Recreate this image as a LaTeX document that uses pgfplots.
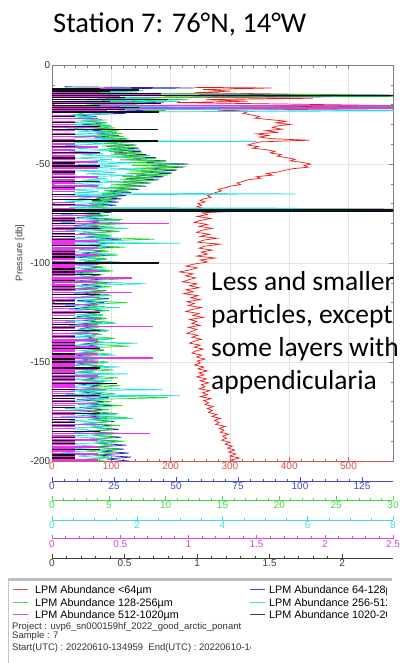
\documentclass[border=0pt]{standalone}
\usepackage{pgfplots}
\pgfplotsset{compat=1.18}
\usepackage{pgfplotstable}
\usepackage{fontspec}
\setmainfont{Liberation Sans}
\newfontfamily\calfont{Carlito}
\definecolor{cRed}{HTML}{F01818}
\definecolor{cBlue}{HTML}{2424C8}
\definecolor{cGreen}{HTML}{22DD22}
\definecolor{cCyan}{HTML}{22E0E0}
\definecolor{cMag}{HTML}{F030F0}
\definecolor{cBlack}{HTML}{101010}
\definecolor{lRed}{HTML}{D85050}
\definecolor{lBlue}{HTML}{4848C0}
\definecolor{lGreen}{HTML}{48D848}
\definecolor{lCyan}{HTML}{48DADA}
\definecolor{lMag}{HTML}{D848D8}
\definecolor{lBlack}{HTML}{404040}
\definecolor{frameC}{HTML}{808080}
\newcommand\tf{\fontsize{10}{12}\selectfont}
\newcommand\lf{\fontsize{10.8}{13}\selectfont}
\newcommand\smallf{\fontsize{9.5}{11}\selectfont}

\pgfplotstableread[row sep=\\]{
d v\\
11.3 240\\ 11.6 370\\ 12.4 255\\ 13.2 300\\ 14 240\\ 14.8 420\\ 15.6 600\\ 16.2 190\\ 16.8 440\\ 17.5 260\\ 18.3 330\\ 19 210\\ 19.8 412\\ 20.6 600\\ 21.3 230\\ 22 600\\ 22.8 280\\ 23.6 330\\ 24.4 322\\
25.2 335\\ 26 350\\ 26.8 342\\ 27.6 368\\ 28.4 395\\ 29.2 378\\ 30 402\\ 30.8 380\\ 31.6 372\\ 32.4 388\\ 33.2 360\\ 34 382\\ 34.8 345\\ 35.6 365\\ 36.4 350\\ 37.2 370\\ 38 434\\ 38.8 352\\ 39.6 340\\ 40.4 330\\ 41.2 348\\ 42 338\\ 42.8 362\\ 43.6 376\\ 44.4 368\\ 45.2 386\\ 46 380\\ 46.8 396\\ 47.6 410\\ 48.4 402\\ 49.2 422\\ 50 436\\ 50.8 425\\ 51.6 432\\ 52.4 405\\ 53.2 392\\ 54 382\\ 54.8 362\\ 55.6 372\\ 56.4 345\\ 57.2 352\\ 58 330\\ 58.8 322\\ 59.6 312\\ 60.4 318\\ 61.2 300\\ 62 292\\ 62.8 280\\ 63.6 286\\ 64.4 276\\ 65.2 270\\ 66 262\\ 66.8 268\\ 67.6 256\\ 68.4 250\\ 69.2 258\\ 70 246\\ 70.8 252\\ 71.6 244\\ 72.4 256\\ 73.2 250\\ 74 303\\ 74.6 254\\
75.5 262\\ 76.5 245\\ 77.5 268\\ 78.5 250\\ 79.5 240\\ 80.5 262\\ 81.5 248\\ 82.5 270\\ 83.5 252\\ 84.5 244\\ 85.5 266\\ 86.5 250\\ 87.5 278\\ 88.5 255\\ 89.5 246\\ 90.5 283\\ 91.5 258\\ 92.5 248\\ 93.5 270\\ 94.5 252\\ 95.5 262\\ 96.5 244\\ 97.5 275\\ 98.5 250\\ 99.5 262\\
100.5 240\\ 101.5 226\\ 102.5 245\\ 103.5 232\\ 104.5 215\\ 105.5 238\\ 106.5 225\\ 107.5 242\\ 108.5 230\\ 109.5 220\\ 110.5 244\\ 111.5 232\\ 112.5 248\\ 113.5 226\\ 114.5 238\\ 115.5 222\\ 116.5 246\\ 117.5 234\\ 118.5 250\\ 119.5 228\\ 120.5 240\\ 121.5 230\\ 122.5 252\\ 123.5 236\\ 124.5 226\\ 125.5 248\\ 126.5 238\\ 127.5 255\\ 128.5 232\\ 129.5 244\\ 130.5 236\\ 131.5 250\\ 132.5 230\\ 133.5 244\\ 134.5 236\\ 135.5 228\\ 136.5 246\\ 137.5 236\\ 138.5 252\\ 139.5 240\\ 140.5 232\\ 141.5 250\\ 142.5 240\\ 143.5 255\\ 144.5 242\\ 145.5 236\\ 146.5 252\\ 147.5 244\\ 148.5 258\\ 149.5 245\\
150.5 250\\ 151.5 240\\ 152.5 256\\ 153.5 246\\ 154.5 262\\ 155.5 248\\ 156.5 256\\ 157.5 244\\ 158.5 260\\ 159.5 250\\ 160.5 264\\ 161.5 252\\ 162.5 258\\ 163.5 248\\ 164.5 266\\ 165.5 254\\ 166.5 262\\ 167.5 250\\ 168.5 268\\ 169.5 256\\ 170.5 264\\ 171.5 258\\ 172.5 272\\ 173.5 262\\ 174.5 270\\ 175.5 264\\ 176.5 278\\ 177.5 270\\ 178.5 284\\ 179.5 274\\ 180.5 282\\ 181.5 276\\ 182.5 292\\ 183.5 282\\ 184.5 290\\ 185.5 284\\ 186.5 298\\ 187.5 288\\ 188.5 294\\ 189.5 286\\ 190.5 300\\ 191.5 292\\ 192.5 304\\ 193.5 296\\ 194.5 308\\ 195.5 298\\ 196.5 310\\ 197.5 300\\ 198.5 316\\ 199.5 302\\ 200 306\\
}\redT

\pgfplotstableread[row sep=\\]{
d v\\
11 5\\ 11.6 57\\ 12.2 10\\ 13 30\\ 13.8 8\\ 14.6 40\\ 15.6 200\\ 16.4 12\\ 17.2 35\\ 18 20\\ 18.8 45\\ 19.6 15\\ 20.4 38\\ 21.2 200\\ 22 25\\ 22.8 40\\ 23.6 18\\ 24.4 30\\
25.2 10\\ 26 18\\ 26.8 12\\ 27.6 20\\ 28.4 14\\ 29.2 22\\ 30 12\\ 30.8 23\\ 31.6 15\\ 32.4 24\\ 33.2 16\\ 34 26\\ 34.8 18\\ 35.6 27\\ 36.4 17\\ 37.2 30\\ 38 20\\ 38.8 32\\ 39.6 21\\ 40.4 34\\ 41.2 22\\ 42 35\\ 42.8 24\\ 43.6 36\\ 44.4 25\\ 45.2 38\\ 46 28\\ 46.8 42\\ 47.6 30\\ 48.4 46\\ 49.2 36\\ 50 55\\ 50.8 40\\ 51.6 53\\ 52.4 38\\ 53.2 50\\ 54 36\\ 54.8 48\\ 55.6 34\\ 56.4 45\\ 57.2 30\\ 58 43\\ 58.8 28\\ 59.6 40\\ 60.4 26\\ 61.2 38\\ 62 24\\ 62.8 35\\ 63.6 22\\ 64.4 32\\ 65.2 20\\ 66 30\\ 66.8 18\\ 67.6 28\\ 68.4 16\\ 69.2 27\\ 70 15\\ 70.8 26\\ 71.6 14\\ 72.4 24\\ 73 200\\ 73.6 15\\ 74.4 24\\
75 12\\ 76 22\\ 77 10\\ 78 25\\ 79 13\\ 80 21\\ 81 9\\ 82 24\\ 83 14\\ 84 26\\ 85 11\\ 86 22\\ 87 13\\ 88 28\\ 89 10\\ 90 23\\ 91 14\\ 92 25\\ 93 11\\ 94 21\\ 95 12\\ 96 24\\ 97 9\\ 98 22\\ 99 13\\ 100 26\\ 101 10\\ 102 20\\ 103 12\\ 104 23\\ 105 9\\ 106 19\\ 107 13\\ 108 22\\ 109 10\\ 110 24\\ 111 12\\ 112 20\\ 113 8\\ 114 22\\ 115 11\\ 116 19\\ 117 13\\ 118 23\\ 119 10\\ 120 21\\ 121 12\\ 122 18\\ 123 9\\ 124 21\\ 125 12\\ 126 19\\ 127 10\\ 128 22\\ 129 13\\ 130 20\\ 131 9\\ 132 18\\ 133 12\\ 134 21\\ 135 10\\ 136 19\\ 137 13\\ 138 17\\ 139 9\\ 140 20\\ 141 12\\ 142 18\\ 143 10\\ 144 21\\ 145 13\\ 146 17\\ 147 9\\ 148 19\\ 149 12\\ 150 18\\
151 10\\ 152 20\\ 153 13\\ 154 17\\ 155 11\\ 156 20\\ 157 9\\ 158 18\\ 159 12\\ 160 21\\ 161 10\\ 162 19\\ 163 13\\ 164 22\\ 165 11\\ 166 20\\ 167 12\\ 168 23\\ 169 10\\ 170 21\\ 171 13\\ 172 24\\ 173 11\\ 174 20\\ 175 14\\ 176 23\\ 177 12\\ 178 22\\ 179 15\\ 180 25\\ 181 13\\ 182 24\\ 183 16\\ 184 27\\ 185 14\\ 186 25\\ 187 17\\ 188 28\\ 189 15\\ 190 27\\ 191 18\\ 192 30\\ 193 16\\ 194 29\\ 195 20\\ 196 31\\ 197 18\\ 198 32\\ 199 22\\ 200 31\\
}\blueT

\pgfplotstableread[row sep=\\]{
d v\\
12 2\\ 13 8\\ 14 3\\ 15.7 40\\ 16.6 4\\ 17.5 12\\ 18.4 5\\ 19.3 9\\ 20.2 3\\ 21 40\\ 22 6\\ 23 10\\ 24 3\\
25.5 1.5\\ 26.2 3.5\\ 26.9 2\\ 27.6 4.2\\ 28.3 2.5\\ 29 4.8\\ 29.7 3\\ 30.4 5.2\\ 31.1 3.2\\ 31.8 5.6\\ 32.5 3.5\\ 33.2 5.9\\ 33.9 3.8\\ 34.6 6.2\\ 35.3 4\\ 36 6.4\\ 36.7 4.2\\ 37.4 6.8\\ 38.1 4.5\\ 38.8 7\\ 39.5 4.6\\ 40.2 7.2\\ 40.9 4.4\\ 41.6 7.5\\ 42.3 4.8\\ 43 7.8\\ 43.7 5\\ 44.4 8\\ 45.1 5.2\\ 45.8 8.6\\ 46.5 5.5\\ 47.2 9.2\\ 47.9 6\\ 48.6 10\\ 49.3 6.5\\ 50 11.5\\ 50.7 7\\ 51.4 11.8\\ 52.1 7.2\\ 52.8 11\\ 53.5 6.8\\ 54.2 10.6\\ 54.9 6.5\\ 55.6 10.2\\ 56.3 6.2\\ 57 9.6\\ 57.7 6\\ 58.4 9\\ 59.1 5.5\\ 59.8 8.4\\ 60.5 5.2\\ 61.2 8\\ 61.9 5\\ 62.6 7.4\\ 63.3 4.6\\ 64 6.8\\ 64.7 4.4\\ 65.4 6.2\\ 66.1 4\\ 66.8 5.8\\ 67.5 3.8\\ 68.2 5.6\\ 68.9 3.5\\ 69.6 5.2\\ 70.3 3.4\\ 71 5\\ 71.7 3.2\\ 72.4 4.8\\ 73 40\\ 73.6 3\\ 74.3 4.6\\
75 2.5\\ 76 5\\ 77 3\\ 78 6.2\\ 79 2.8\\ 80 7\\ 81 3.2\\ 82 5.5\\ 83 2.6\\ 84 6\\ 85 3\\ 86 5.2\\ 87 3.4\\ 88 9\\ 89 2.8\\ 90 5.6\\ 91 3\\ 92 6.4\\ 93 2.5\\ 94 5\\ 95 3.2\\ 96 5.8\\ 97 2.8\\ 98 4.8\\ 99 3\\ 100 5.5\\ 101 2.6\\ 102 4.6\\ 103 3.1\\ 104 5.4\\ 105 2.5\\ 106 4.4\\ 107 3\\ 108 6.4\\ 109 2.7\\ 110 4.8\\ 111 3.2\\ 112 5.2\\ 113 2.4\\ 114 4.6\\ 115 3\\ 116 5\\ 117 2.6\\ 118 4.4\\ 119 3.2\\ 120 6.6\\ 121 2.8\\ 122 4.6\\ 123 2.4\\ 124 5\\ 125 3\\ 126 4.2\\ 127 2.6\\ 128 4.8\\ 129 3.2\\ 130 5.4\\ 131 2.5\\ 132 4.4\\ 133 3\\ 134 5\\ 135 2.6\\ 136 4.2\\ 137 3\\ 138 5.6\\ 139 2.4\\ 140 4.6\\ 141 3.2\\ 142 6.8\\ 143 2.6\\ 144 4.4\\ 145 3\\ 146 5.2\\ 147 2.5\\ 148 4.2\\ 149 3.1\\ 150 5\\
151 2.6\\ 152 4.6\\ 153 3\\ 154 5.4\\ 155 2.4\\ 156 4.2\\ 157 3.2\\ 158 5.8\\ 159 2.8\\ 160 4.4\\ 161 3\\ 162 6\\ 163 2.6\\ 164 4.8\\ 165 3.3\\ 166 5.6\\ 167 3\\ 168 10.2\\ 169 2.8\\ 170 5.2\\ 171 3.4\\ 172 6.2\\ 173 2.8\\ 174 5\\ 175 3.4\\ 176 5.8\\ 177 3\\ 178 6.6\\ 179 3.2\\ 180 5.2\\ 181 2.8\\ 182 6\\ 183 3.4\\ 184 5.4\\ 185 3\\ 186 6.2\\ 187 3.6\\ 188 5.6\\ 189 3.2\\ 190 6.4\\ 191 3.8\\ 192 5.2\\ 193 3.4\\ 194 6\\ 195 3\\ 196 5.4\\ 197 3.6\\ 198 5\\ 199 3.2\\ 200 4.6\\
}\greenT

\pgfplotstableread[row sep=\\]{
d v\\
11.5 0.3\\ 12 1.2\\ 12.8 0.2\\ 13.6 2\\ 14.4 0.4\\ 15.2 1.5\\ 16 0.2\\ 16.8 2.4\\ 17.6 0.3\\ 18.4 3\\ 19.2 0.5\\ 20 1.8\\ 20.8 0.2\\ 21.6 10\\ 22.3 0.4\\ 23 10\\ 23.8 0.3\\ 24.6 1.4\\
25.4 0.3\\ 26.2 1.0\\ 27 0.4\\ 27.8 1.3\\ 28.6 0.2\\ 29.4 0.9\\ 30.2 0.5\\ 31 1.4\\ 31.8 0.3\\ 32.6 1.1\\ 33.4 0.6\\ 34.2 1.5\\ 35 0.3\\ 35.8 1.2\\ 36.6 0.5\\ 37.4 1.6\\ 38.2 0.4\\ 38.6 4.8\\ 39 0.5\\ 39.8 1.3\\ 40.6 0.3\\ 41.4 1.0\\ 42.2 0.6\\ 43 1.6\\ 43.8 0.4\\ 44.6 1.2\\ 45.4 0.7\\ 46.2 1.8\\ 47 0.5\\ 47.8 1.4\\ 48.6 0.8\\ 49.4 2.0\\ 50.2 0.6\\ 51 1.6\\ 51.8 0.9\\ 52.6 2.2\\ 53.4 0.5\\ 54.2 1.5\\ 55 0.8\\ 55.8 1.9\\ 56.6 0.4\\ 57.4 1.3\\ 58.2 0.7\\ 59 1.7\\ 59.8 0.3\\ 60.6 1.2\\ 61.4 0.6\\ 62.2 1.5\\ 63 0.4\\ 63.8 1.1\\ 64.6 0.5\\ 65.1 5.7\\ 65.6 0.3\\ 66.4 1.3\\ 67.2 0.6\\ 68 1.0\\ 68.8 0.3\\ 69.6 1.4\\ 70.4 0.5\\ 71.2 1.1\\ 72 0.4\\ 72.3 5.8\\ 72.6 0.3\\ 73.1 10\\ 73.6 0.4\\ 74.4 1.2\\
75.5 0.2\\ 76.5 1.2\\ 77.5 0.4\\ 78.5 1.6\\ 79.5 0.2\\ 80.5 1.0\\ 81.5 0.5\\ 82.5 1.8\\ 83.5 0.3\\ 84.5 1.1\\ 85.5 0.6\\ 86.5 1.4\\ 87.5 0.2\\ 88.5 1.7\\ 89.5 0.4\\ 90 3.0\\ 90.5 0.3\\ 91.5 1.3\\ 92.5 0.5\\ 93.5 1.0\\ 94.5 0.2\\ 95.5 1.5\\ 96.5 0.4\\ 97.5 1.1\\ 98.5 0.6\\ 99.5 1.6\\ 100.5 0.2\\ 101.5 1.0\\ 102.5 0.5\\ 103.5 1.3\\ 104.5 0.3\\ 105.5 0.9\\ 106.5 0.6\\ 107.5 1.4\\ 108.5 0.2\\ 109.5 1.1\\ 110.5 2.2\\ 111.5 0.4\\ 112.5 1.2\\ 113.5 0.3\\ 114.5 0.9\\ 115.5 0.5\\ 116.5 1.4\\ 117.5 0.2\\ 118.5 1.0\\ 119.5 0.6\\ 120.5 1.3\\ 121.5 0.3\\ 122.5 1.6\\ 123.5 0.4\\ 124.5 0.9\\ 125.5 0.2\\ 126.5 1.2\\ 127.5 0.5\\ 128.5 1.0\\ 129.5 0.3\\ 130.5 1.5\\ 131.5 0.4\\ 132.5 1.1\\ 133.5 0.6\\ 134.5 1.3\\ 135.5 0.2\\ 136.5 1.0\\ 137.5 0.5\\ 138.5 1.4\\ 139.5 0.3\\ 140.5 2.0\\ 141.5 0.4\\ 142.5 1.2\\ 143.5 0.2\\ 144.5 1.0\\ 145.5 0.6\\ 146.5 1.5\\ 147.5 0.3\\ 148.5 1.1\\ 149.5 0.5\\
150.5 1.3\\ 151.5 0.2\\ 152.5 1.6\\ 153.5 0.4\\ 154.5 1.0\\ 155.5 0.3\\ 156 1.8\\ 156.5 0.5\\ 157.5 1.2\\ 158.5 0.2\\ 159.5 1.4\\ 160.5 0.5\\ 161.5 1.0\\ 162.5 0.3\\ 163.5 1.5\\ 164 2.6\\ 164.5 0.4\\ 165.5 1.2\\ 166.5 0.3\\ 167 3.0\\ 167.5 0.5\\ 168.5 1.3\\ 169.5 0.2\\ 170.5 1.1\\ 171.5 0.6\\ 172.5 1.4\\ 173.5 0.3\\ 174.5 1.0\\ 175.5 0.5\\ 176.5 1.5\\ 177.5 0.2\\ 178.5 1.9\\ 179.5 0.4\\ 180.5 1.1\\ 181.5 0.6\\ 182.5 1.3\\ 183.5 0.3\\ 184.5 1.0\\ 185.5 0.5\\ 186.5 1.4\\ 187.5 0.2\\ 188.5 1.2\\ 189.5 0.6\\ 190.5 1.5\\ 191.5 0.3\\ 192.5 1.0\\ 193.5 0.5\\ 194.5 1.3\\ 195.5 0.2\\ 196.5 1.1\\ 197.5 0.6\\ 198.5 1.4\\ 199.5 0.3\\
}\cyanT

\pgfplotstableread[row sep=\\]{
d v\\
11.8 0.45\\ 13 0.6\\ 14 0.35\\ 15 0.8\\ 16.2 0.5\\ 17.4 0.7\\ 18.5 0.35\\ 19.3 0.6\\ 20.4 3\\ 21.2 0.5\\ 21.8 3\\ 23 0.4\\ 24 0.34\\
25.5 0.17\\ 27 0.34\\ 28.5 0.17\\ 30 0.17\\ 31.5 0.34\\ 33 0.17\\ 34.5 0.17\\ 36 0.34\\ 37.5 0.17\\ 40 0.17\\ 41.5 0.34\\ 43 0.17\\ 44.5 0.34\\ 46 0.17\\ 47.5 0.17\\ 49 0.34\\ 50.5 0.17\\ 52 0.34\\ 53.5 0.17\\ 55 0.17\\ 56.5 0.34\\ 58 0.17\\ 59.5 0.17\\ 61 0.34\\ 62.5 0.17\\ 64 0.17\\ 66.5 0.34\\ 68 0.17\\ 69.5 0.17\\ 71 0.34\\ 72.5 0.17\\ 73 3\\
74 0.34\\ 75 0.17\\ 76 0.34\\ 77 0.17\\ 78 0.17\\ 79 0.34\\ 80 0.86\\ 81 0.17\\ 82 0.34\\ 83 0.17\\ 84 0.17\\ 85.5 0.34\\ 86.5 0.17\\ 87.5 0.17\\ 89 0.34\\ 90 0.17\\ 91 0.17\\ 92.5 0.34\\ 93.5 0.17\\ 94.5 0.17\\ 96 0.34\\ 97 0.17\\ 98 0.17\\ 99.5 0.17\\ 100.5 0.34\\ 101.5 0.17\\ 102.5 0.17\\ 104 0.34\\ 105 0.17\\ 106 0.17\\ 107.5 0.59\\ 108.5 0.17\\ 109.5 0.34\\ 111 0.17\\ 112 0.17\\ 113 0.34\\ 114 0.17\\ 115 0.59\\ 116 0.17\\ 117.5 0.34\\ 118.5 0.17\\ 119.5 0.17\\ 121 0.34\\ 122 0.17\\ 123 0.17\\ 124.5 0.34\\ 125.5 0.17\\ 126.5 0.17\\ 128 0.34\\ 129 0.17\\ 130 0.17\\ 131 0.34\\ 132 0.74\\ 133 0.17\\ 134 0.17\\ 135.5 0.34\\ 136.5 0.17\\ 137.5 0.17\\ 139 0.34\\ 140 0.17\\ 141 0.17\\ 142.5 0.34\\ 143.5 0.17\\ 144.5 0.17\\ 146 0.34\\ 147 0.17\\ 148 0.74\\ 149 0.17\\ 150 0.34\\
151 0.17\\ 152 0.17\\ 153.5 0.34\\ 154.5 0.17\\ 155.5 0.17\\ 157 0.34\\ 158 0.17\\ 159 0.17\\ 160.5 0.34\\ 161.5 0.17\\ 162.5 0.17\\ 164 0.34\\ 165 0.17\\ 166 0.17\\ 167.5 0.34\\ 168.5 0.17\\ 169.5 0.17\\ 171 0.34\\ 172 0.17\\ 173 0.17\\ 174.5 0.34\\ 175.5 0.17\\ 176.5 0.17\\ 178 0.34\\ 179 0.17\\ 180 0.17\\ 181.5 0.34\\ 182.5 0.17\\ 183.5 0.17\\ 185 0.34\\ 186 0.72\\ 187 0.17\\ 188 0.17\\ 189.5 0.34\\ 190.5 0.17\\ 191.5 0.17\\ 193 0.34\\ 194 0.17\\ 195 0.17\\ 196.5 0.34\\ 197.5 0.17\\ 198.5 0.17\\ 199.5 0.34\\
}\magT

\pgfplotstableread[row sep=\\]{
d v\\
11.8 0.33\\ 12.6 0.6\\ 13.4 0.4\\ 14.2 0.75\\ 15.6 3\\ 16.6 0.5\\ 17.6 0.8\\ 18.6 0.4\\ 19.6 0.75\\ 20.6 0.33\\ 21.6 0.6\\ 22.6 0.5\\ 23.7 0.74\\
26 0.16\\ 29 0.16\\ 31 0.33\\ 32.5 0.73\\ 35 0.16\\ 38.4 0.73\\ 41 0.16\\ 44 0.33\\ 47 0.16\\ 49.5 0.16\\ 51 0.33\\ 54 0.16\\ 57 0.16\\ 59 0.33\\ 62 0.16\\ 65.5 0.16\\ 68 0.33\\ 70.5 0.16\\ 72.8 3\\ 73.1 3\\ 73.4 3\\ 73.7 3\\
75 0.33\\ 77.5 0.16\\ 78.5 0.16\\ 80 0.16\\ 82.5 0.33\\ 85 0.16\\ 86.5 0.16\\ 88 0.16\\ 91 0.33\\ 94 0.16\\ 95.5 0.16\\ 97 0.16\\ 100 0.74\\ 103 0.16\\ 104.5 0.16\\ 106 0.33\\ 109 0.16\\ 112 0.16\\ 113.5 0.16\\ 116 0.33\\ 119 0.16\\ 120.5 0.16\\ 122 0.16\\ 125 0.33\\ 128 0.16\\ 131 0.16\\ 132.5 0.16\\ 134 0.33\\ 137 0.16\\ 140 0.16\\ 141.5 0.16\\ 143 0.33\\ 146 0.16\\ 148.5 0.16\\ 150 0.16\\ 153 0.33\\ 156 0.16\\ 157.5 0.16\\ 159 0.16\\ 161 0.45\\ 164 0.16\\ 167 0.33\\ 168.5 0.16\\ 170 0.16\\ 173 0.16\\ 176 0.33\\ 179 0.16\\ 180.5 0.16\\ 182 0.16\\ 185 0.33\\ 188 0.16\\ 189.5 0.16\\ 191 0.16\\ 194 0.33\\ 197 0.16\\ 198.5 0.16\\
}\blackT

\pgfplotsset{
  geom/.style={scale only axis, width=341pt, height=396pt, at={(52pt,-461pt)}, anchor=south west, ymin=0, ymax=200, y dir=reverse, xmin=0},
  ov/.style={geom, hide axis},
  scl/.style={scale only axis, width=341pt, height=2pt, anchor=south west, ymin=0, ymax=1, xmin=0,
     axis y line=none, axis x line*=bottom, x axis line style={-, draw=#1, line width=0.8pt},
     tick align=inside, major tick length=4pt, minor tick length=2.5pt,
     every tick/.style={#1, line width=0.6pt}, minor x tick num=4,
     xticklabel style={text=#1, font=\tf, inner sep=1.5pt},
     /pgf/number format/assume math mode=true},
}

\begin{document}
\begin{tikzpicture}
\useasboundingbox (0,0) rectangle (406pt,-663pt);
\fill[white] (0,0) rectangle (406pt,-663pt);

\begin{axis}[geom, xmax=575,
  xtick={0,100,...,500}, minor x tick num=4,
  ytick={0,50,...,200}, yticklabels={0,-50,-100,-150,-200}, minor y tick num=4,
  tick align=inside,
  grid=major, major grid style={draw=gray!22, line width=0.5pt},
  axis line style={draw=frameC, line width=0.6pt},
  every tick/.style={frameC, line width=0.5pt},
  major tick length=4pt, minor tick length=2.5pt,
  xticklabel style={text=lRed, font=\tf, inner sep=1.5pt},
  yticklabel style={text=black!80, font=\tf, inner sep=1.5pt},
  /pgf/number format/assume math mode=true]
\addplot[cRed, line width=0.7pt] table[x=v, y=d] {\redT};
\draw[lRed, line width=0.9pt] (axis cs:0,200) -- (axis cs:575,200);
\end{axis}

\begin{axis}[ov, xmax=137.5]
\addplot[cBlue, line width=0.7pt] table[x=v, y=d] {\blueT};
\end{axis}
\begin{axis}[ov, xmax=30]
\addplot[cGreen, line width=0.7pt] table[x=v, y=d] {\greenT};
\end{axis}
\begin{axis}[ov, xmax=8]
\addplot[cCyan, line width=0.7pt] table[x=v, y=d] {\cyanT};
\end{axis}
\begin{axis}[ov, xmax=2.5]
\addplot[cMag, xcomb, line width=1.5pt] table[x=v, y=d] {\magT};
\end{axis}
\begin{axis}[ov, xmax=2.35]
\addplot[cBlack, xcomb, line width=1.2pt] table[x=v, y=d] {\blackT};
\end{axis}

\begin{axis}[scl=lBlue, at={(52pt,-481pt)}, xmax=137.5, xtick={0,25,50,75,100,125}]
\end{axis}
\begin{axis}[scl=lGreen, at={(52pt,-500pt)}, xmax=30, xtick={0,5,10,15,20,25,30}]
\end{axis}
\begin{axis}[scl=lCyan, at={(52pt,-520pt)}, xmax=8, xtick={0,2,4,6,8}, minor x tick num=3]
\end{axis}
\begin{axis}[scl=lMag, at={(52pt,-538.5pt)}, xmax=2.5, xtick={0,0.5,1,1.5,2,2.5}]
\end{axis}
\begin{axis}[scl=lBlack, at={(52pt,-558pt)}, xmax=2.35, xtick={0,0.5,1,1.5,2}]
\end{axis}

\node[rotate=90, font=\fontsize{9.5}{11}\selectfont, text=black!75] at (20pt,-253pt) {Pressure [db]};

\node[anchor=base west, inner sep=0, font=\calfont\fontsize{28.5}{34}\selectfont] at (53pt,-33pt) {Station 7: 76°N, 14°W};

\begin{scope}[every node/.style={anchor=base west, inner sep=0, font=\calfont\fontsize{27.5}{33}\selectfont}]
\node at (211pt,-290pt) {Less and smaller};
\node at (211pt,-323pt) {particles, except};
\node at (211pt,-356pt) {some layers with};
\node at (211pt,-389pt) {appendicularia};
\end{scope}

% legend panel
\fill[gray!50] (8pt,-578.3pt) rectangle (392pt,-581pt);
\draw[gray!45, line width=0.6pt] (8.3pt,-580pt) -- (8.3pt,-670pt);
\draw[lRed, line width=0.8pt] (13pt,-589.5pt) -- (28pt,-589.5pt);
\draw[lGreen, line width=0.8pt] (13pt,-602pt) -- (28pt,-602pt);
\draw[lMag, line width=0.8pt] (13pt,-614.5pt) -- (28pt,-614.5pt);
\begin{scope}[every node/.style={anchor=base west, inner sep=0, font=\lf}]
\node at (35pt,-593.5pt) {LPM Abundance <64µm};
\node at (35pt,-606pt) {LPM Abundance 128-256µm};
\node at (35pt,-618.5pt) {LPM Abundance 512-1020µm};
\end{scope}
\begin{scope}
\clip (240pt,-582pt) rectangle (386.5pt,-625pt);
\draw[lBlue, line width=0.8pt] (250pt,-589.5pt) -- (265pt,-589.5pt);
\draw[lCyan, line width=0.8pt] (250pt,-602pt) -- (265pt,-602pt);
\draw[lBlack, line width=0.8pt] (250pt,-614.5pt) -- (265pt,-614.5pt);
\begin{scope}[every node/.style={anchor=base west, inner sep=0, font=\lf}]
\node at (269pt,-593.5pt) {LPM Abundance 64-128µm};
\node at (269pt,-606pt) {LPM Abundance 256-512µm};
\node at (269pt,-618.5pt) {LPM Abundance 1020-2050µm};
\end{scope}
\end{scope}
\begin{scope}
\clip (10pt,-620pt) rectangle (250pt,-663pt);
\begin{scope}[every node/.style={anchor=base west, inner sep=0, font=\smallf, text=black!80}]
\node at (12pt,-629pt) {Project : uvp6\_sn000159hf\_2022\_good\_arctic\_ponant};
\node at (12pt,-638.5pt) {Sample : 7};
\node at (12pt,-650pt) {Start(UTC) : 20220610-134959\ \ End(UTC) : 20220610-140512};
\end{scope}
\end{scope}
\end{tikzpicture}
\end{document}
